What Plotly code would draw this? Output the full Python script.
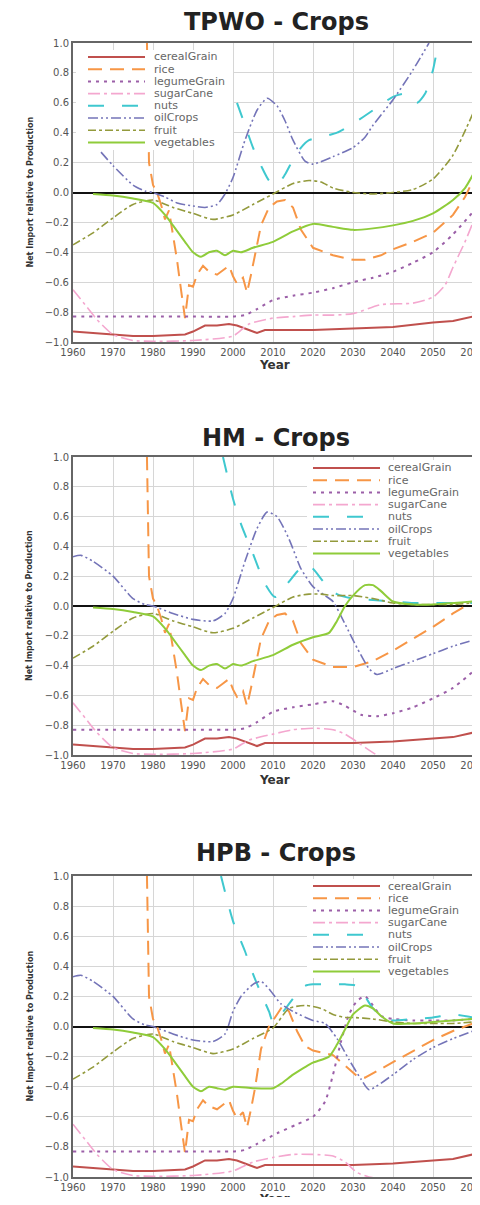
import plotly.graph_objects as go

# ---------------- DATA ----------------
SERIES = ["cerealGrain", "rice", "legumeGrain", "sugarCane", "nuts", "oilCrops", "fruit", "vegetables"]
PANEL_TITLES = ["TPWO - Crops", "HM - Crops", "HPB - Crops"]
X_TICKS = [1960, 1970, 1980, 1990, 2000, 2010, 2020, 2030, 2040, 2050, 2060]
Y_TICKS = [-1.0, -0.8, -0.6, -0.4, -0.2, 0.0, 0.2, 0.4, 0.6, 0.8, 1.0]
X_TITLE = "Year"
Y_TITLE = "Net Import relative to Production"

cereal_x = [1960, 1965, 1970, 1975, 1980, 1985, 1988, 1990, 1993, 1996, 1999, 2001, 2003, 2006, 2008, 2010, 2020, 2030, 2040, 2050, 2055, 2060]
cereal_tpwo_y = [-0.93, -0.94, -0.95, -0.96, -0.96, -0.955, -0.95, -0.93, -0.89, -0.89, -0.88, -0.89, -0.91, -0.94, -0.92, -0.92, -0.92, -0.91, -0.90, -0.87, -0.86, -0.83]
cereal_hm_y = [-0.93, -0.94, -0.95, -0.96, -0.96, -0.955, -0.95, -0.93, -0.89, -0.89, -0.88, -0.89, -0.91, -0.94, -0.92, -0.92, -0.92, -0.92, -0.91, -0.89, -0.88, -0.85]
cereal_hpb_y = [-0.93, -0.94, -0.95, -0.96, -0.96, -0.955, -0.95, -0.93, -0.89, -0.89, -0.88, -0.89, -0.91, -0.94, -0.92, -0.92, -0.92, -0.92, -0.91, -0.89, -0.88, -0.85]

rice_hist_x = [1978.3, 1979, 1980, 1981, 1982, 1983, 1984, 1985, 1986, 1987, 1988, 1989, 1990, 1991, 1992.5, 1994, 1996, 1997.5, 1999, 2000, 2001, 2002.5, 2003.5, 2004.5, 2005.5]
rice_hist_y = [1.3, 0.2, 0.05, 0.0, -0.08, -0.18, -0.12, -0.28, -0.45, -0.65, -0.84, -0.62, -0.63, -0.55, -0.49, -0.53, -0.55, -0.52, -0.49, -0.56, -0.61, -0.57, -0.67, -0.55, -0.41]
rice_tpwo_x = rice_hist_x + [2007, 2009, 2011, 2013, 2015, 2017, 2020, 2025, 2030, 2033, 2037, 2040, 2045, 2050, 2055, 2058, 2060]
rice_tpwo_y = rice_hist_y + [-0.22, -0.1, -0.06, -0.05, -0.1, -0.25, -0.37, -0.42, -0.45, -0.45, -0.42, -0.38, -0.33, -0.27, -0.15, -0.03, 0.08]
rice_hm_x = rice_hist_x + [2007, 2009, 2011, 2013, 2015, 2017, 2020, 2025, 2030, 2035, 2040, 2045, 2050, 2055, 2058, 2060]
rice_hm_y = rice_hist_y + [-0.22, -0.1, -0.06, -0.05, -0.1, -0.25, -0.36, -0.41, -0.41, -0.37, -0.3, -0.22, -0.14, -0.05, 0.0, 0.03]
rice_hpb_x = rice_hist_x + [2007, 2009, 2011, 2012.5, 2014, 2016, 2018, 2020, 2025, 2028, 2031, 2033, 2035, 2040, 2045, 2050, 2055, 2060]
rice_hpb_y = rice_hist_y + [-0.15, 0.0, 0.08, 0.14, 0.1, -0.03, -0.13, -0.16, -0.19, -0.26, -0.33, -0.34, -0.31, -0.24, -0.16, -0.09, -0.03, 0.02]

legume_x_tpwo = [1960, 1970, 1980, 1990, 2000, 2003, 2006, 2010, 2015, 2020, 2025, 2030, 2035, 2040, 2045, 2050, 2055, 2060]
legume_y_tpwo = [-0.83, -0.83, -0.83, -0.83, -0.83, -0.82, -0.78, -0.72, -0.69, -0.67, -0.64, -0.6, -0.57, -0.53, -0.47, -0.4, -0.28, -0.13]
legume_x_hm = [1960, 1970, 1980, 1990, 2000, 2003, 2006, 2010, 2015, 2020, 2025, 2028, 2032, 2036, 2040, 2045, 2050, 2055, 2060]
legume_y_hm = [-0.83, -0.83, -0.83, -0.83, -0.83, -0.82, -0.78, -0.71, -0.68, -0.66, -0.64, -0.67, -0.73, -0.74, -0.72, -0.68, -0.62, -0.55, -0.44]
legume_x_hpb = [1960, 1970, 1980, 1990, 2000, 2003, 2006, 2011, 2016, 2020, 2023, 2025, 2027, 2029, 2031, 2033, 2035, 2037, 2040, 2045, 2050, 2055, 2060]
legume_y_hpb = [-0.83, -0.83, -0.83, -0.83, -0.83, -0.82, -0.78, -0.71, -0.65, -0.6, -0.5, -0.32, -0.1, 0.08, 0.17, 0.2, 0.14, 0.07, 0.05, 0.04, 0.04, 0.04, 0.05]

sugar_x_tpwo = [1960, 1963, 1966, 1970, 1975, 1980, 1990, 2000, 2004, 2010, 2015, 2020, 2025, 2030, 2037, 2045, 2050, 2053, 2055, 2058, 2060]
sugar_y_tpwo = [-0.65, -0.75, -0.85, -0.95, -0.99, -0.995, -0.99, -0.96, -0.88, -0.84, -0.83, -0.82, -0.82, -0.81, -0.75, -0.74, -0.7, -0.62, -0.5, -0.33, -0.2]
sugar_x_hm = [1960, 1963, 1966, 1970, 1975, 1980, 1990, 2000, 2004, 2010, 2015, 2020, 2025, 2028, 2032, 2036, 2040, 2050, 2060]
sugar_y_hm = [-0.65, -0.75, -0.85, -0.95, -0.99, -0.995, -0.99, -0.96, -0.9, -0.86, -0.83, -0.82, -0.83, -0.86, -0.93, -1.0, -1.02, -1.02, -1.02]
sugar_x_hpb = [1960, 1963, 1966, 1970, 1975, 1980, 1990, 2000, 2005, 2010, 2015, 2020, 2025, 2028, 2031, 2034, 2040, 2050, 2060]
sugar_y_hpb = [-0.65, -0.75, -0.85, -0.95, -0.99, -0.995, -0.99, -0.96, -0.9, -0.87, -0.85, -0.85, -0.86, -0.9, -0.97, -1.0, -1.02, -1.02, -1.02]

nuts_x_tpwo = [2001, 2003, 2005, 2007, 2009, 2011, 2013, 2015, 2017, 2019, 2022, 2026, 2030, 2035, 2040, 2043, 2046, 2048, 2050, 2051, 2052]
nuts_y_tpwo = [0.6, 0.45, 0.3, 0.18, 0.08, 0.05, 0.12, 0.22, 0.3, 0.35, 0.37, 0.4, 0.46, 0.55, 0.64, 0.66, 0.6, 0.66, 0.82, 0.95, 1.05]
nuts_x_hm = [1997.5, 2000, 2002, 2005, 2008, 2010.5, 2013, 2016, 2018, 2020, 2023, 2026, 2030, 2035, 2040, 2045, 2050, 2055, 2060]
nuts_y_hm = [1.0, 0.72, 0.55, 0.35, 0.15, 0.06, 0.13, 0.23, 0.28, 0.25, 0.15, 0.08, 0.05, 0.04, 0.03, 0.02, 0.02, 0.02, 0.02]
nuts_x_hpb = [1997, 2000, 2003, 2005, 2007, 2009, 2010, 2012, 2014, 2016, 2018, 2020, 2022, 2025, 2028, 2031, 2033, 2035, 2038, 2040, 2045, 2050, 2055, 2060]
nuts_y_hpb = [1.0, 0.7, 0.5, 0.35, 0.22, 0.1, 0.03, 0.08, 0.15, 0.22, 0.27, 0.28, 0.28, 0.28, 0.28, 0.27, 0.2, 0.12, 0.05, 0.04, 0.05, 0.06, 0.08, 0.06]

oil_x_tpwo = [1967, 1970, 1975, 1978, 1980, 1983, 1986, 1990, 1993, 1996, 1998, 2000, 2003, 2006, 2008.5, 2011, 2013, 2015, 2018, 2020, 2025, 2030, 2033, 2035, 2040, 2045, 2049]
oil_y_tpwo = [0.27, 0.18, 0.05, 0.01, 0.0, -0.03, -0.07, -0.09, -0.1, -0.08, -0.01, 0.1, 0.35, 0.55, 0.63, 0.58, 0.48, 0.35, 0.21, 0.19, 0.24, 0.3, 0.37, 0.45, 0.62, 0.82, 1.0]
oil_x_hm = [1960, 1962, 1965, 1970, 1975, 1978, 1980, 1985, 1990, 1995, 1998, 2000, 2003, 2006, 2008.5, 2011, 2014, 2017, 2020, 2023, 2025, 2028, 2031, 2034, 2036, 2040, 2045, 2050, 2055, 2060]
oil_y_hm = [0.33, 0.34, 0.3, 0.2, 0.05, 0.01, 0.0, -0.05, -0.09, -0.1, -0.05, 0.05, 0.3, 0.52, 0.63, 0.6, 0.45, 0.25, 0.13, 0.07, 0.03, -0.12, -0.28, -0.42, -0.46, -0.42, -0.37, -0.32, -0.27, -0.23]
oil_x_hpb = [1960, 1962, 1965, 1970, 1975, 1978, 1980, 1985, 1990, 1995, 1998, 2000, 2002, 2005, 2007, 2009, 2012, 2015, 2020, 2023, 2026, 2029, 2032, 2034, 2040, 2045, 2050, 2055, 2060]
oil_y_hpb = [0.33, 0.34, 0.3, 0.2, 0.05, 0.01, 0.0, -0.05, -0.09, -0.1, -0.05, 0.1, 0.2, 0.28, 0.3, 0.25, 0.15, 0.1, 0.04, 0.02, -0.08, -0.22, -0.35, -0.42, -0.32, -0.22, -0.14, -0.08, -0.03]

fruit_x_tpwo = [1960, 1965, 1970, 1975, 1980, 1985, 1990, 1995, 2000, 2005, 2010, 2015, 2019, 2022, 2025, 2030, 2035, 2040, 2045, 2050, 2055, 2060]
fruit_y_tpwo = [-0.35, -0.27, -0.17, -0.08, -0.05, -0.1, -0.14, -0.18, -0.15, -0.08, -0.01, 0.06, 0.08, 0.07, 0.03, 0.0, -0.01, 0.0, 0.02, 0.09, 0.25, 0.53]
fruit_x_hm = [1960, 1965, 1970, 1975, 1980, 1985, 1990, 1995, 2000, 2005, 2010, 2015, 2019, 2022, 2025, 2030, 2035, 2040, 2045, 2050, 2055, 2060]
fruit_y_hm = [-0.35, -0.27, -0.17, -0.08, -0.05, -0.1, -0.14, -0.18, -0.15, -0.08, -0.01, 0.06, 0.08, 0.08, 0.07, 0.07, 0.05, 0.02, 0.01, 0.01, 0.01, 0.02]
fruit_x_hpb = [1960, 1965, 1970, 1975, 1980, 1985, 1990, 1995, 2000, 2005, 2010, 2014, 2018, 2022, 2025, 2028, 2030, 2035, 2040, 2045, 2050, 2055, 2060]
fruit_y_hpb = [-0.35, -0.27, -0.17, -0.08, -0.05, -0.1, -0.14, -0.18, -0.15, -0.08, -0.01, 0.12, 0.14, 0.12, 0.08, 0.06, 0.06, 0.05, 0.03, 0.02, 0.02, 0.02, 0.03]

veg_x_tpwo = [1965, 1970, 1975, 1980, 1983, 1985, 1988, 1990, 1992, 1994, 1996, 1998, 2000, 2002, 2005, 2010, 2015, 2020, 2025, 2030, 2035, 2040, 2045, 2050, 2055, 2058, 2060]
veg_y_tpwo = [-0.01, -0.02, -0.04, -0.07, -0.15, -0.22, -0.33, -0.4, -0.43, -0.4, -0.39, -0.42, -0.39, -0.4, -0.37, -0.33, -0.26, -0.21, -0.23, -0.25, -0.24, -0.22, -0.19, -0.14, -0.05, 0.03, 0.12]
veg_x_hm = [1965, 1970, 1975, 1980, 1983, 1985, 1988, 1990, 1992, 1994, 1996, 1998, 2000, 2002, 2005, 2010, 2015, 2020, 2024, 2026, 2028, 2030, 2033, 2035, 2037, 2040, 2045, 2050, 2060]
veg_y_hm = [-0.01, -0.02, -0.04, -0.07, -0.15, -0.22, -0.33, -0.4, -0.43, -0.4, -0.39, -0.42, -0.39, -0.4, -0.37, -0.33, -0.26, -0.21, -0.18, -0.1, 0.0, 0.07, 0.14, 0.14, 0.1, 0.03, 0.01, 0.01, 0.03]
veg_x_hpb = [1965, 1970, 1975, 1980, 1983, 1985, 1988, 1990, 1992, 1994, 1996, 1998, 2000, 2005, 2010, 2012, 2015, 2018, 2020, 2024, 2026, 2028, 2030, 2033, 2035, 2037, 2040, 2045, 2050, 2060]
veg_y_hpb = [-0.01, -0.02, -0.04, -0.07, -0.15, -0.22, -0.33, -0.4, -0.43, -0.4, -0.41, -0.42, -0.4, -0.41, -0.41, -0.38, -0.32, -0.27, -0.24, -0.2, -0.12, -0.02, 0.08, 0.14, 0.12, 0.07, 0.02, 0.02, 0.03, 0.05]

PANEL_DATA = [
    [(cereal_x, cereal_tpwo_y), (rice_tpwo_x, rice_tpwo_y), (legume_x_tpwo, legume_y_tpwo), (sugar_x_tpwo, sugar_y_tpwo),
     (nuts_x_tpwo, nuts_y_tpwo), (oil_x_tpwo, oil_y_tpwo), (fruit_x_tpwo, fruit_y_tpwo), (veg_x_tpwo, veg_y_tpwo)],
    [(cereal_x, cereal_hm_y), (rice_hm_x, rice_hm_y), (legume_x_hm, legume_y_hm), (sugar_x_hm, sugar_y_hm),
     (nuts_x_hm, nuts_y_hm), (oil_x_hm, oil_y_hm), (fruit_x_hm, fruit_y_hm), (veg_x_hm, veg_y_hm)],
    [(cereal_x, cereal_hpb_y), (rice_hpb_x, rice_hpb_y), (legume_x_hpb, legume_y_hpb), (sugar_x_hpb, sugar_y_hpb),
     (nuts_x_hpb, nuts_y_hpb), (oil_x_hpb, oil_y_hpb), (fruit_x_hpb, fruit_y_hpb), (veg_x_hpb, veg_y_hpb)],
]

# ---------------- STYLE ----------------
# the page body has an 8px margin, so the figure is sized to fit and all
# positions below are given in window pixels and shifted by that margin
OFF = 8
W, H = 480 - OFF, 1205 - 2 * OFF
COLORS = ["#c0504d", "#f79646", "#9b5fa8", "#f4a7cf", "#3fc8cf", "#7474b8", "#939a3c", "#8fcc3a"]
DASHES = ["solid", "14px,8px", "3px,5px", "12px,4px,3px,4px", "16px,18px", "10px,3px,2px,3px,2px,3px", "8px,3px,3px,3px", "solid"]
WIDTHS = [2, 2, 2, 1.6, 2, 1.6, 1.6, 2]
SHAPES = ["linear", "linear", "spline", "spline", "spline", "spline", "spline", "spline"]

PANELS = [(43, 342), (457, 755), (876, 1177)]   # plot-area top/bottom in window px
X0, X1 = 73, 473
TITLE_Y = [22, 438, 853]
XTITLE_Y = [365, 780, 1199]
# legend box: left, top, right, bottom, line x0, line x1, text x, first row y
LEGENDS = [(76, 50, 233, 150, 88, 145, 152, 57),
           (307, 460, 472, 560, 313, 380, 386, 468),
           (307, 879, 472, 978, 313, 380, 386, 886)]
ROW = 12.2

FONT = "DejaVu Sans, Verdana, sans-serif"

def px(x):
    return (x - OFF) / W

def py(y):
    return 1 - (y - OFF) / H

fig = go.Figure()
for p in range(3):
    sfx = "" if p == 0 else str(p + 1)
    for s, name in enumerate(SERIES):
        xs, ys = PANEL_DATA[p][s]
        fig.add_trace(go.Scatter(
            x=xs, y=ys, mode="lines", name=name, showlegend=False,
            line=dict(color=COLORS[s], dash=DASHES[s], width=WIDTHS[s], shape=SHAPES[s], smoothing=0.6),
            xaxis="x" + sfx, yaxis="y" + sfx,
        ))

layout = dict(width=W, height=H, margin=dict(l=0, r=0, t=0, b=0), showlegend=False,
              paper_bgcolor="white", plot_bgcolor="white", font=dict(family=FONT))
for p in range(3):
    sfx = "" if p == 0 else str(p + 1)
    top, bot = PANELS[p]
    layout["xaxis" + sfx] = dict(
        domain=[px(X0), px(X1)], range=[1960, 2060], anchor="y" + sfx, automargin=False,
        tickvals=X_TICKS, ticks="", tickfont=dict(size=10, color="#555"), ticklabeloverflow="allow",
        showgrid=True, gridcolor="#d6d6d6", gridwidth=1,
        showline=True, linecolor="#666", linewidth=2, mirror=True, zeroline=False,
    )
    layout["yaxis" + sfx] = dict(
        domain=[py(bot), py(top)], range=[-1, 1], anchor="x" + sfx, automargin=False,
        tickvals=Y_TICKS, tickformat=".1f", ticks="", tickfont=dict(size=10, color="#555"),
        showgrid=True, gridcolor="#d6d6d6", gridwidth=1,
        showline=True, linecolor="#666", linewidth=2, mirror=True,
        zeroline=True, zerolinecolor="#111", zerolinewidth=2,
    )

annotations = []
shapes = []
for p in range(3):
    top, bot = PANELS[p]
    annotations.append(dict(text="<b>%s</b>" % PANEL_TITLES[p], x=px(276), y=py(TITLE_Y[p]),
                            xref="paper", yref="paper", showarrow=False, xanchor="center", yanchor="middle",
                            font=dict(size=24, color="#222", family=FONT)))
    annotations.append(dict(text="<b>%s</b>" % X_TITLE, x=px(274), y=py(XTITLE_Y[p]),
                            xref="paper", yref="paper", showarrow=False, xanchor="center", yanchor="middle",
                            font=dict(size=12, color="#333", family=FONT)))
    annotations.append(dict(text="<b>%s</b>" % Y_TITLE, x=px(30), y=py((top + bot) / 2), textangle=-90,
                            xref="paper", yref="paper", showarrow=False, xanchor="center", yanchor="middle",
                            font=dict(size=8, color="#333", family=FONT)))
    l, t, r, b, lx0, lx1, tx, ry = LEGENDS[p]
    shapes.append(dict(type="rect", xref="paper", yref="paper", x0=px(l), x1=px(r), y0=py(b), y1=py(t),
                       fillcolor="white", line=dict(width=0), layer="above"))
    for s, name in enumerate(SERIES):
        yy = ry + s * ROW
        shapes.append(dict(type="line", xref="paper", yref="paper", x0=px(lx0), x1=px(lx1), y0=py(yy), y1=py(yy),
                           line=dict(color=COLORS[s], dash=DASHES[s], width=WIDTHS[s]), layer="above"))
        annotations.append(dict(text=name, x=px(tx), y=py(yy), xref="paper", yref="paper", showarrow=False,
                                xanchor="left", yanchor="middle", font=dict(size=11, color="#666", family=FONT)))
layout["annotations"] = annotations
layout["shapes"] = shapes
fig.update_layout(**layout)
fig.write_html("out.html")
